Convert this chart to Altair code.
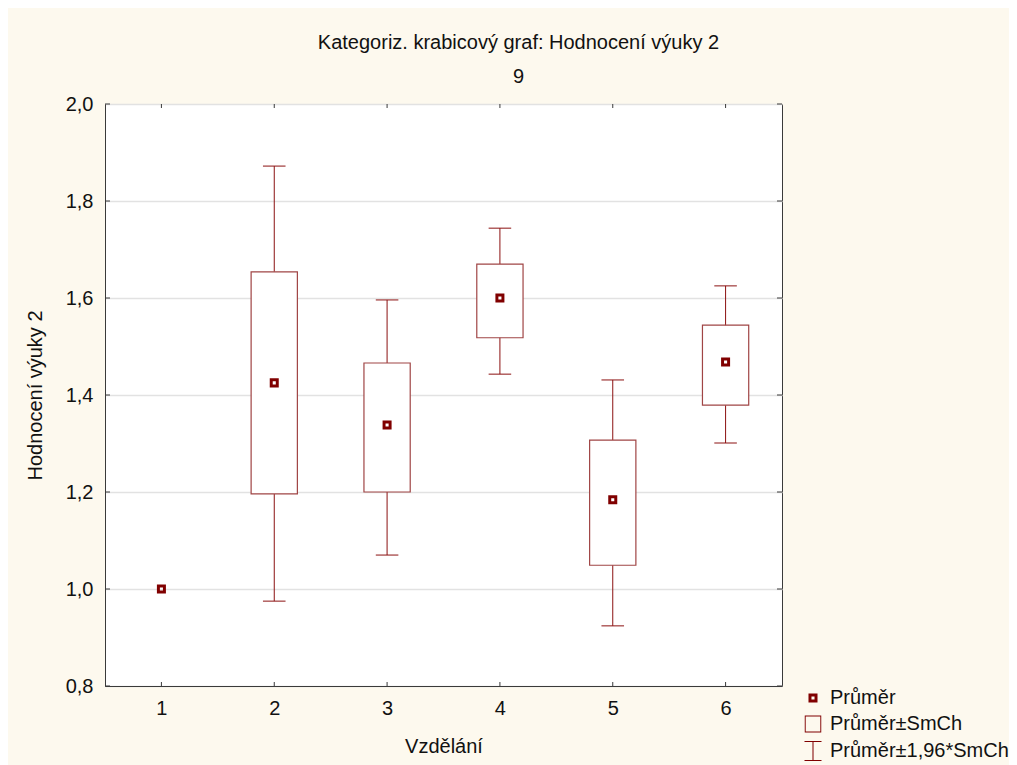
import altair as alt
import pandas as pd

# ---- data ----
cats = [1, 2, 3, 4, 5, 6]
mean = [1.000, 1.425, 1.338, 1.600, 1.184, 1.468]
se_lo = [None, 1.196, 1.200, 1.518, 1.049, 1.379]
se_hi = [None, 1.654, 1.466, 1.670, 1.307, 1.544]
ci_lo = [None, 0.975, 1.070, 1.443, 0.924, 1.301]
ci_hi = [None, 1.872, 1.596, 1.744, 1.431, 1.625]
x_ticks = [1, 2, 3, 4, 5, 6]
y_ticks = [0.8, 1.0, 1.2, 1.4, 1.6, 1.8, 2.0]
legend_labels = ["Průměr", "Průměr±SmCh", "Průměr±1,96*SmCh"]

df = pd.DataFrame({"cat": cats, "mean": mean, "se_lo": se_lo, "se_hi": se_hi,
                   "ci_lo": ci_lo, "ci_hi": ci_hi, "leg": legend_labels[0]})
df_box = df.dropna()
xt = pd.DataFrame({"cat": x_ticks})
yt = pd.DataFrame({"v": y_ticks})

W, H = 677, 582
FONT = "Liberation Sans"
FS = 20
MAROON = "#800000"
WHISK = "#8B1010"
BOXC = "#A04545"
FRAME = "#3a3a3a"

xs = alt.Scale(domain=[0.5, 6.5], nice=False, zero=False)
ys = alt.Scale(domain=[0.8, 2.0], nice=False, zero=False)
xaxis = alt.Axis(values=x_ticks, format="d", grid=False, ticks=False, labelPadding=12,
                 title="Vzdělání", titleX=W / 2, titleY=60, titleBaseline="middle",
                 titleAlign="center")
yaxis = alt.Axis(values=y_ticks, grid=True, ticks=False, labelPadding=12,
                 labelExpr="replace(format(datum.value, '.1f'), '.', ',')",
                 title="Hodnocení výuky 2", titleX=-70, titleY=H / 2,
                 titleBaseline="middle", titleAlign="center", titleAngle=-90)


def X(f):
    return alt.X(f, type="quantitative", scale=xs, axis=xaxis)


def Y(f):
    return alt.Y(f, type="quantitative", scale=ys, axis=yaxis)


base = alt.Chart(df_box)

whisk = base.mark_rule(color=WHISK, strokeWidth=1).encode(
    x=X("cat"), y=Y("ci_lo"), y2="ci_hi")

caps_lo = base.transform_calculate(a="datum.cat - 0.1", b="datum.cat + 0.1").mark_rule(
    color=WHISK, strokeWidth=1).encode(x=X("a"), x2="b", y=Y("ci_lo"))
caps_hi = base.transform_calculate(a="datum.cat - 0.1", b="datum.cat + 0.1").mark_rule(
    color=WHISK, strokeWidth=1).encode(x=X("a"), x2="b", y=Y("ci_hi"))

box = base.transform_calculate(a="datum.cat - 0.205", b="datum.cat + 0.205").mark_rect(
    fill="white", stroke=BOXC, strokeWidth=1.2).encode(
    x=X("a"), x2="b", y=Y("se_lo"), y2="se_hi")

marker_path = "M-0.53,-0.53H0.53V0.53H-0.53Z M-0.18,-0.18V0.18H0.18V-0.18Z"
box_path = "M-0.97,-1H0.97V1H-0.97Z M-0.86,-0.89V0.89H0.86V-0.89Z"
whisk_path = ("M-1,-1.18H1V-1.06H-1Z M-1,1.06H1V1.18H-1Z "
              "M-0.06,-1.06H0.06V1.06H-0.06Z")

means = alt.Chart(df).mark_point(filled=True, size=289, strokeWidth=0, opacity=1,
                                 color=MAROON).encode(
    x=X("cat"), y=Y("mean"),
    shape=alt.Shape("leg:N",
                    scale=alt.Scale(domain=legend_labels,
                                    range=[marker_path, box_path, whisk_path]),
                    legend=alt.Legend(title=None, orient="none", legendX=698,
                                      legendY=584, padding=0, symbolSize=289,
                                      symbolFillColor=MAROON, symbolStrokeWidth=0,
                                      symbolOpacity=1, labelFont=FONT, labelFontSize=FS,
                                      labelFontWeight="normal",
                                      labelColor="#111111", labelOffset=7,
                                      rowPadding=6, labelLimit=300)))

# inward tick marks on the frame
tb = alt.Chart(xt).mark_rule(color=FRAME).encode(x=X("cat"), y=alt.value(H), y2=alt.value(H - 4))
tt = alt.Chart(xt).mark_rule(color=FRAME).encode(x=X("cat"), y=alt.value(0), y2=alt.value(4))
tl = alt.Chart(yt).mark_rule(color=FRAME).encode(y=Y("v"), x=alt.value(0), x2=alt.value(5))
tr = alt.Chart(yt).mark_rule(color=FRAME).encode(y=Y("v"), x=alt.value(W), x2=alt.value(W - 5))

chart = alt.layer(whisk, caps_lo, caps_hi, box, means, tb, tt, tl, tr).properties(
    width=W, height=H,
    autosize=alt.AutoSizeParams(type="none"),
    padding={"left": 97, "top": 96, "right": 227, "bottom": 79},
    background="#FDF9EE",
    title=alt.TitleParams(text="Kategoriz. krabicový graf: Hodnocení výuky 2",
                          subtitle="9", anchor="middle", dx=75, offset=7,
                          font=FONT, fontSize=FS, fontWeight="normal", color="#111111",
                          subtitleFont=FONT, subtitleFontSize=FS, subtitleColor="#111111",
                          subtitlePadding=14),
).configure_view(fill="white", stroke=FRAME, strokeWidth=1).configure_axis(
    domainColor=FRAME, labelFont=FONT, labelFontSize=FS, labelColor="#111111",
    titleFont=FONT, titleFontSize=FS, titleFontWeight="normal", titleColor="#111111",
    gridColor="#e2e2e2", gridWidth=1.5)

chart.save("out.html", embed_options={"renderer": "svg", "actions": False})
